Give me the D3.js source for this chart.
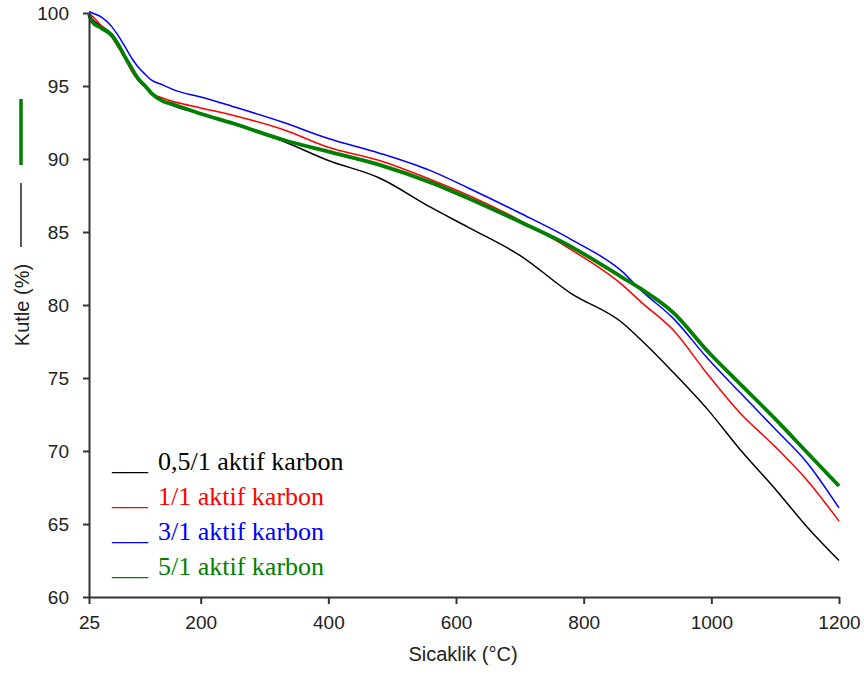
<!DOCTYPE html>
<html>
<head>
<meta charset="utf-8">
<script src="https://cdn.jsdelivr.net/npm/d3@7"></script>
<style>
  html, body { margin: 0; padding: 0; background: #fff; }
  svg { display: block; }
</style>
</head>
<body>
<svg id="chart" width="864" height="675"></svg>
<script>
// Temperature grid (°C) the curves were read at
const temps = [25, 30, 45, 60, 70, 80, 92, 102, 113, 123, 139, 160, 200, 250, 330, 400, 480, 560, 620, 700, 780, 860, 890, 940, 995, 1045, 1100, 1150, 1200];

// Mass (%) per sample
const mass05 = [100, 99.6, 99.1, 98.6, 98.0, 97.2, 96.3, 95.5, 95.0, 94.5, 94.0, 93.6, 93.1, 92.4, 91.2, 89.9, 88.7, 86.7, 85.3, 83.4, 80.8, 78.8, 77.6, 75.4, 72.8, 70.1, 67.4, 64.8, 62.5];
const mass1 = [100, 99.8, 99.1, 98.4, 97.7, 97.0, 96.0, 95.4, 94.9, 94.5, 94.2, 93.9, 93.5, 93.0, 92.0, 90.8, 89.9, 88.6, 87.5, 85.8, 83.8, 81.4, 80.2, 78.3, 75.2, 72.6, 70.3, 68.0, 65.2];
const mass3 = [100.1, 100, 99.7, 99.1, 98.5, 97.8, 96.9, 96.3, 95.8, 95.4, 95.1, 94.7, 94.25, 93.6, 92.5, 91.4, 90.4, 89.2, 88.0, 86.3, 84.5, 82.3, 81.0, 79.1, 76.3, 74.0, 71.5, 69.2, 66.1];
const mass5 = [99.9, 99.4, 98.95, 98.5, 97.9, 97.1, 96.2, 95.5, 95.0, 94.5, 94.0, 93.7, 93.1, 92.45, 91.3, 90.5, 89.6, 88.4, 87.3, 85.7, 84.0, 81.9, 81.1, 79.5, 76.8, 74.6, 72.2, 69.9, 67.6];

const seriesNames = ['0,5/1 aktif karbon', '1/1 aktif karbon', '3/1 aktif karbon', '5/1 aktif karbon'];
const seriesColors = ['#000000', '#ff0000', '#0000ff', '#008000'];
const seriesWidths = [1.5, 1.5, 1.5, 3.8];

const xTicks = [25, 200, 400, 600, 800, 1000, 1200];
const yTicks = [60, 65, 70, 75, 80, 85, 90, 95, 100];

const svg = d3.select('#chart');
const axisColor = '#333';
const sans = 'Liberation Sans, Arial, sans-serif';

const x = d3.scaleLinear().domain([25, 1200]).range([89, 839]);
const y = d3.scaleLinear().domain([60, 100]).range([597, 13]);

// Curves
const allSeries = [mass05, mass1, mass3, mass5];
const line = d3.line()
    .x(d => x(d[0]))
    .y(d => y(d[1]))
    .curve(d3.curveMonotoneX);

allSeries.forEach((vals, i) => {
    svg.append('path')
        .datum(temps.map((t, k) => [t, vals[k]]))
        .attr('fill', 'none')
        .attr('stroke', seriesColors[i])
        .attr('stroke-width', seriesWidths[i])
        .attr('stroke-linejoin', 'round')
        .attr('d', line);
});

// Axes
const xAxis = svg.append('g')
    .attr('transform', `translate(0,${y(60)})`)
    .call(d3.axisBottom(x).tickValues(xTicks).tickFormat(d3.format('d'))
        .tickSize(7).tickPadding(12).tickSizeOuter(0));
const yAxis = svg.append('g')
    .attr('transform', `translate(${x(25)},0)`)
    .call(d3.axisLeft(y).tickValues(yTicks).tickSize(6).tickPadding(14).tickSizeOuter(0));

[xAxis, yAxis].forEach(a => {
    a.select('.domain').attr('stroke', axisColor).attr('stroke-width', 2);
    a.selectAll('.tick line').attr('stroke', axisColor).attr('stroke-width', 2);
    a.selectAll('.tick text')
        .attr('fill', '#222')
        .style('font-family', sans)
        .style('font-size', '19px');
});

// Axis titles
svg.append('text')
    .attr('x', 463).attr('y', 661)
    .attr('text-anchor', 'middle')
    .style('font-family', sans)
    .style('font-size', '20px')
    .attr('fill', '#222')
    .text('Sicaklik (°C)');

svg.append('text')
    .attr('transform', 'translate(29,305) rotate(-90)')
    .attr('text-anchor', 'middle')
    .style('font-family', sans)
    .style('font-size', '20px')
    .attr('fill', '#222')
    .text('Kutle (%)');

// small series markers next to the y title
svg.append('line')
    .attr('x1', 21).attr('x2', 21).attr('y1', 99).attr('y2', 165)
    .attr('stroke', '#008000').attr('stroke-width', 3.5);
svg.append('line')
    .attr('x1', 21).attr('x2', 21).attr('y1', 183).attr('y2', 247)
    .attr('stroke', '#222').attr('stroke-width', 1.5);

// Legend
const serif = 'Liberation Serif, Times New Roman, serif';
seriesNames.forEach((name, i) => {
    const yy = 470 + i * 35;
    svg.append('text')
        .attr('x', 112).attr('y', yy)
        .attr('fill', seriesColors[i])
        .style('font-family', serif)
        .style('font-size', '24px')
        .text('___');
    svg.append('text')
        .attr('x', 158).attr('y', yy)
        .attr('fill', seriesColors[i])
        .style('font-family', serif)
        .style('font-size', '26px')
        .text(name);
});
</script>
</body>
</html>
